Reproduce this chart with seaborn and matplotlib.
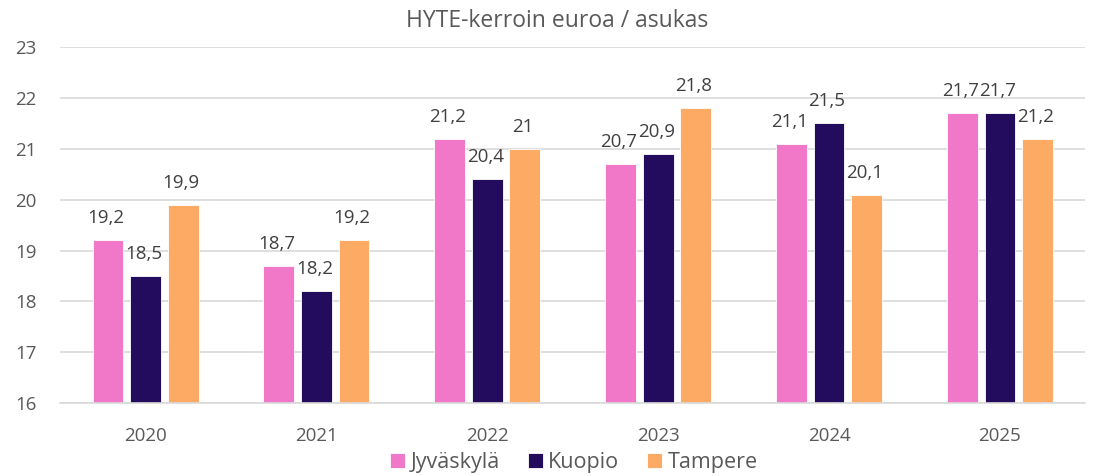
import matplotlib
matplotlib.use("Agg")
import matplotlib.pyplot as plt
import seaborn as sns
import pandas as pd

years = ["2020", "2021", "2022", "2023", "2024", "2025"]
cities = ["Jyväskylä", "Kuopio", "Tampere"]
jyvaskyla = [19.2, 18.7, 21.2, 20.7, 21.1, 21.7]
kuopio = [18.5, 18.2, 20.4, 20.9, 21.5, 21.7]
tampere = [19.9, 19.2, 21.0, 21.8, 20.1, 21.2]
colors = ["#F178C8", "#230C5E", "#FDAA65"]

df = pd.DataFrame({
    "vuosi": years * 3,
    "kunta": [c for c in cities for _ in years],
    "arvo": jyvaskyla + kuopio + tampere,
})

sns.set_theme(style="white")
plt.rcParams["font.family"] = ["Open Sans", "DejaVu Sans"]
text_color = "#595959"

fig = plt.figure(figsize=(10.93, 4.76), dpi=100)
ax = fig.add_axes([0.055, 0.153, 0.938, 0.748])

sns.barplot(data=df, x="vuosi", y="arvo", hue="kunta", order=years,
            hue_order=cities, palette=colors, width=0.66, gap=0.18,
            saturation=1, ax=ax, legend=True, edgecolor="white",
            linewidth=0.6)

ax.set_ylim(16, 23)
ax.set_yticks(range(16, 24))
ax.set_xlim(-0.5, len(years) - 0.5)
ax.yaxis.grid(True, color="#D9D9D9", linewidth=1.2)
ax.set_axisbelow(True)
for s in ["top", "right", "left"]:
    ax.spines[s].set_visible(False)
ax.spines["bottom"].set_color("#D9D9D9")
ax.spines["bottom"].set_linewidth(1.2)
ax.tick_params(axis="both", length=0, colors=text_color, labelsize=13.5)
ax.tick_params(axis="x", pad=17)
ax.tick_params(axis="y", pad=17)
ax.set_xlabel("")
ax.set_ylabel("")


def fmt(v):
    return str(int(v)) if float(v).is_integer() else f"{v:.1f}".replace(".", ",")


for container in ax.containers:
    for bar, val in zip(container, container.datavalues):
        x = bar.get_x() + bar.get_width() / 2
        ax.annotate(fmt(val), (x, bar.get_height()), xytext=(-2, 22),
                    textcoords="offset pixels", ha="center", va="center",
                    fontsize=13.5, color="#404040")

fig.suptitle("HYTE-kerroin euroa / asukas", x=0.51, y=0.955, va="center",
             fontsize=16.5, color=text_color)

handles, labels = ax.get_legend_handles_labels()
ax.legend_.remove()
fig.legend(handles, labels, loc="center", bbox_to_anchor=(0.525, 0.028),
           ncol=3, frameon=False, fontsize=15.5, labelcolor=text_color,
           handlelength=0.7, handleheight=0.7, handletextpad=0.25,
           columnspacing=1.3, borderpad=0)

fig.savefig("out.png", dpi=100)
